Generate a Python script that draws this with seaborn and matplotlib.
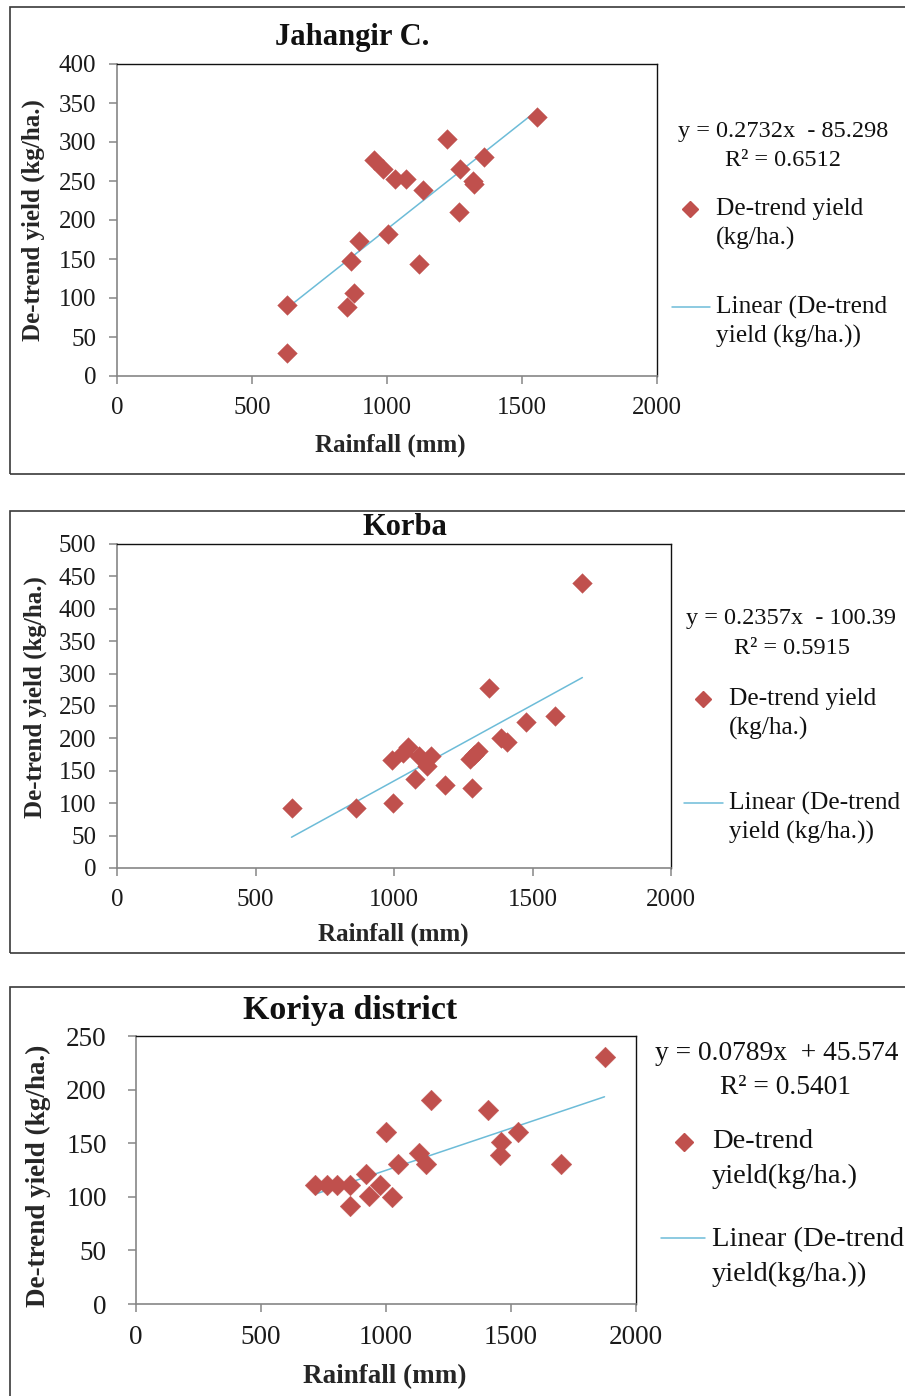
import matplotlib
matplotlib.use("Agg")
import matplotlib.pyplot as plt
from matplotlib.lines import Line2D
from matplotlib.patches import Rectangle
import seaborn as sns
import numpy as np

# ---------------- data ----------------
jc_rain = [630, 630, 853, 877, 868, 896, 951, 986, 1004, 1031, 1071, 1117, 1134, 1221, 1269, 1266, 1318, 1322, 1361, 1555]
jc_yield = [91, 30, 89, 107, 148, 173, 277, 265, 182, 253, 253, 143, 238, 304, 266, 210, 250, 246, 281, 332]

kb_rain = [630, 864, 995, 991, 1034, 1050, 1076, 1092, 1118, 1135, 1184, 1273, 1290, 1303, 1283, 1343, 1388, 1408, 1476, 1581, 1680]
kb_yield = [92, 93, 100, 167, 177, 186, 138, 173, 158, 173, 128, 168, 175, 181, 124, 278, 200, 194, 226, 234, 440]

kr_rain = [716, 763, 803, 857, 857, 921, 930, 977, 1024, 1001, 1048, 1131, 1158, 1178, 1408, 1459, 1455, 1526, 1700, 1874]
kr_yield = [111, 111, 111, 111, 91, 121, 101, 111, 100, 160, 131, 141, 131, 190, 181, 151, 139, 160, 131, 230]

titles = ["Jahangir C.", "Korba", "Koriya district"]
equations = ["y = 0.2732x  - 85.298", "y = 0.2357x  - 100.39", "y = 0.0789x  + 45.574"]
r2_texts = ["R\u00b2 = 0.6512", "R\u00b2 = 0.5915", "R\u00b2 = 0.5401"]
scatter_labels = ["De-trend yield\n(kg/ha.)", "De-trend yield\n(kg/ha.)", "De-trend\nyield(kg/ha.)"]
line_labels = ["Linear (De-trend\nyield (kg/ha.))", "Linear (De-trend\nyield (kg/ha.))", "Linear (De-trend\nyield(kg/ha.))"]
x_ticks = [0, 500, 1000, 1500, 2000]
y_ticks_list = [list(range(0, 401, 50)), list(range(0, 501, 50)), list(range(0, 251, 50))]

# ---------------- style ----------------
sns.set_theme(style="white")
plt.rcParams["font.family"] = ["Liberation Serif", "DejaVu Serif"]

W, H = 905, 1396
fig = plt.figure(figsize=(W / 100, H / 100), dpi=100)
fig.patch.set_facecolor("white")

def fx(px):
    return px / W

def fy(py):
    return 1 - py / H

RED = "#C0504D"
BLUE = "#6DBCD8"
AXGRAY = "#868686"

panels = [
    dict(x=jc_rain, y=jc_yield, box=(117, 657, 64, 376), border=(10, 7, 474),
         title_pos=(352, 37), title_fs=22, fs=18, ms=100, pad=9,
         ylab=(33, 220), xlab=(390, 445), eq=(678, 132), r2=(783, 161), efs=17.5,
         mk=(690, 209), sl=(716, 209), lh=(672, 710, 307), ll=(716, 307), lsp=29, lfs=18.3, mks=8.5, ymax=400),
    dict(x=kb_rain, y=kb_yield, box=(117, 671, 544, 868), border=(10, 511, 953),
         title_pos=(405, 527), title_fs=22, fs=18, ms=100, pad=9,
         ylab=(35, 697), xlab=(393, 934), eq=(686, 619), r2=(792, 648), efs=17.5,
         mk=(703, 699), sl=(729, 699), lh=(684, 723, 803), ll=(729, 803), lsp=29, lfs=18.3, mks=8.5, ymax=500),
    dict(x=kr_rain, y=kr_yield, box=(136, 636, 1036, 1304), border=(10, 987, 1400),
         title_pos=(350, 1011), title_fs=24.5, fs=19.5, ms=110, pad=15,
         ylab=(38, 1176), xlab=(385, 1377), eq=(655, 1054), r2=(785, 1088), efs=19.8,
         mk=(684, 1142), sl=(712, 1142), lh=(661, 705, 1238), ll=(712, 1240), lsp=34, lfs=20.5, mks=9, ymax=250),
]

for i, p in enumerate(panels):
    l, r, t, b = p["box"]
    # panel border
    bx, bt, bb = p["border"]
    fig.add_artist(Rectangle((fx(bx), fy(bb)), fx(W + 20) - fx(bx), fy(bt) - fy(bb),
                             transform=fig.transFigure, fill=False, edgecolor="#3a3a3a", lw=1.2))

    ax = fig.add_axes([fx(l), fy(b), (r - l) / W, (b - t) / H])
    ax.set_facecolor("white")
    sns.regplot(x=np.array(p["x"], dtype=float), y=np.array(p["y"], dtype=float), ax=ax,
                scatter=False, ci=None, color=BLUE, line_kws={"lw": 1.1, "zorder": 2})
    sns.scatterplot(x=p["x"], y=p["y"], ax=ax, marker="D", s=p["ms"], color=RED,
                    edgecolor=RED, linewidth=0.3, legend=False, zorder=3)
    ax.set_xlim(0, 2000)
    ax.set_ylim(0, p["ymax"])
    ax.set_xticks(x_ticks)
    ax.set_yticks(y_ticks_list[i])
    for side in ["top", "right"]:
        ax.spines[side].set_color("#111111")
        ax.spines[side].set_linewidth(1.0)
    for side in ["left", "bottom"]:
        ax.spines[side].set_color(AXGRAY)
        ax.spines[side].set_linewidth(1.2)
    ax.tick_params(axis="both", which="major", direction="out", length=6, width=1.1,
                   color=AXGRAY, labelsize=p["fs"], labelcolor="#1a1a1a", pad=9,
                   left=True, bottom=True)
    ax.tick_params(axis="y", pad=p["pad"])

    ax.set_xlabel("Rainfall (mm)", fontsize=p["fs"], fontweight="bold")
    ax.set_ylabel("De-trend yield (kg/ha.)", fontsize=p["fs"], fontweight="bold")
    ax.xaxis.label.set_va("center")
    ax.yaxis.label.set_va("center")
    ax.xaxis.set_label_coords((p["xlab"][0] - l) / (r - l), (b - p["xlab"][1]) / (b - t))
    ax.yaxis.set_label_coords((p["ylab"][0] - l) / (r - l), (b - p["ylab"][1]) / (b - t))

    fig.text(fx(p["title_pos"][0]), fy(p["title_pos"][1]), titles[i], ha="center", va="center",
             fontsize=p["title_fs"], fontweight="bold", color="#111111")

    # equation + R^2
    fig.text(fx(p["eq"][0]), fy(p["eq"][1]), equations[i], ha="left", va="center",
             fontsize=p["efs"], color="#111111")
    fig.text(fx(p["r2"][0]), fy(p["r2"][1]), r2_texts[i], ha="center", va="center",
             fontsize=p["efs"], color="#111111")

    # legend (manual, Excel-style: symbol aligned with first line)
    mx, my = p["mk"]
    fig.add_artist(Line2D([fx(mx)], [fy(my)], transform=fig.transFigure, marker="D",
                          markersize=p["mks"], color=RED, linestyle="none"))
    sx, sy = p["sl"]
    for k, s in enumerate(scatter_labels[i].split("\n")):
        fig.text(fx(sx), fy(sy + k * p["lsp"]), s, ha="left", va="center",
                 fontsize=p["lfs"], color="#111111")
    x0, x1, ly = p["lh"]
    fig.add_artist(Line2D([fx(x0), fx(x1)], [fy(ly), fy(ly)], transform=fig.transFigure,
                          color=BLUE, lw=1.1))
    lx, lyy = p["ll"]
    for k, s in enumerate(line_labels[i].split("\n")):
        fig.text(fx(lx), fy(lyy + k * p["lsp"]), s, ha="left", va="center",
                 fontsize=p["lfs"], color="#111111")

fig.savefig("out.png", dpi=100, facecolor="white")
